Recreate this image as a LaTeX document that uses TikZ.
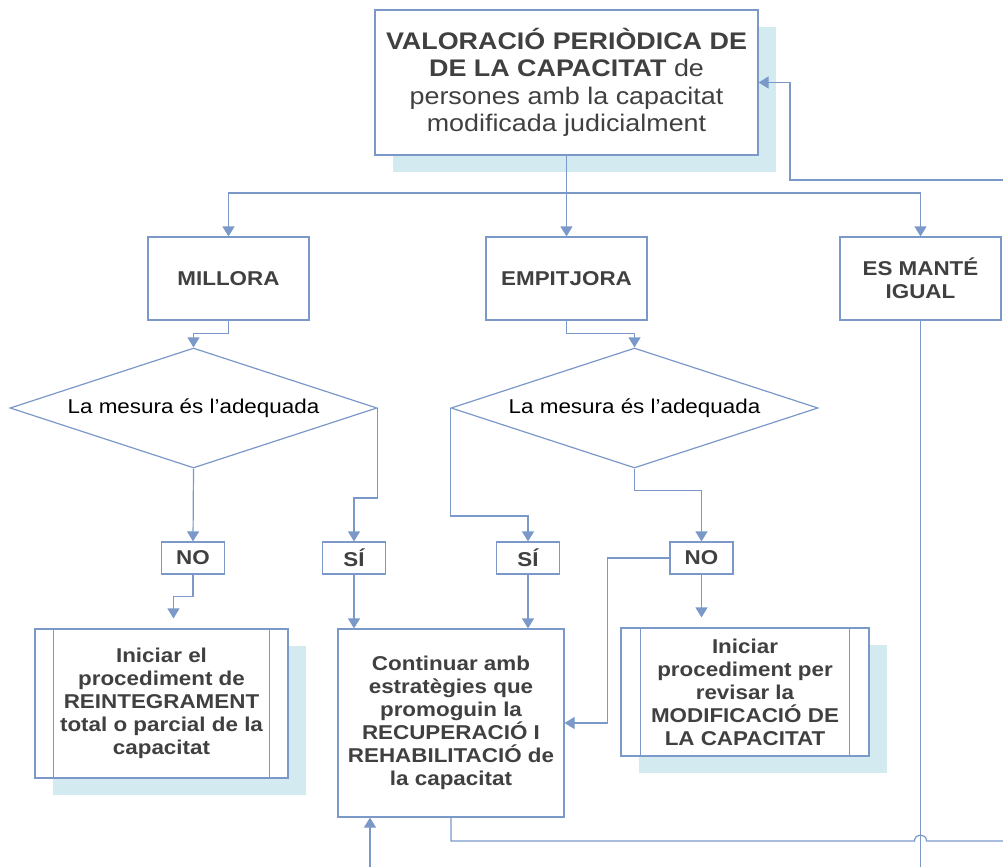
\documentclass[tikz,border=0pt]{standalone}
\usepackage{fontspec}
\setmainfont[FakeStretch=1.12]{Liberation Sans}
\usetikzlibrary{shapes.geometric,shadows,arrows.meta,calc}
\definecolor{blaulinia}{RGB}{122,152,200}
\definecolor{ombra}{RGB}{210,234,240}
\definecolor{gristext}{RGB}{64,64,64}
\tikzset{
    caixa/.style={draw=blaulinia, line width=1.2pt, fill=white, align=center,
        text=gristext, inner sep=2pt, font=\fontsize{20}{23}\selectfont\bfseries},
    ombrejat/.style={general shadow={fill=ombra, shadow xshift=18pt, shadow yshift=-17pt}},
    rombe/.style={diamond, draw=blaulinia, line width=1.2pt, inner sep=0pt, aspect=3.06,
        minimum width=367pt, minimum height=120pt, font=\fontsize{20}{23}\selectfont},
    fletxa/.style={draw=blaulinia, line width=1.2pt, -{Triangle[width=12pt,length=10pt]}},
    tram/.style={draw=blaulinia, line width=1.2pt},
}
\begin{document}
\begin{tikzpicture}[x=1pt, y=-1pt]
    \useasboundingbox (0,0) rectangle (1003,867);

    % Caixa superior
    \node[caixa, ombrejat, minimum width=383pt, minimum height=145pt,
        font=\fontsize{24}{27.5}\selectfont] (valoracio) at (566.5,82.5)
        {\textbf{VALORACIÓ PERIÒDICA DE}\\\textbf{DE LA CAPACITAT} de\\persones amb la capacitat\\modificada judicialment};

    % Evolucio
    \foreach \nom/\x/\val in {millora/228.5/MILLORA, empitjora/566.5/EMPITJORA, mante/920.5/{ES MANTÉ\\IGUAL}} {
        \node[caixa, minimum width=161pt, minimum height=83pt] (\nom) at (\x,278.5) {\val};
    }

    % Preguntes
    \node[rombe] (mesura1) at (193.5,408) {La mesura és l’adequada};
    \node[rombe] (mesura2) at (634.5,408) {La mesura és l’adequada};

    % Respostes
    \foreach \nom/\x/\val in {no1/193/NO, si1/354/SÍ, si2/528/SÍ, no2/701.5/NO} {
        \node[caixa, minimum width=63pt, minimum height=32pt] (\nom) at (\x,558) {\val};
    }

    % Accions
    \node[caixa, ombrejat, minimum width=253pt, minimum height=149pt] (reintegrament) at (161.5,703.5)
        {Iniciar el\\procediment de\\REINTEGRAMENT\\total o parcial de la\\capacitat};
    \node[caixa, minimum width=226pt, minimum height=188pt] (continuar) at (451,723)
        {Continuar amb\\estratègies que\\promoguin la\\RECUPERACIÓ I\\REHABILITACIÓ de\\la capacitat};
    \node[caixa, ombrejat, minimum width=248pt, minimum height=128pt] (revisar) at (745,692)
        {Iniciar\\procediment per\\revisar la\\MODIFICACIÓ DE\\LA CAPACITAT};
    \foreach \nom/\d in {reintegrament/19, revisar/20} {
        \draw[tram] ([xshift=\d pt]\nom.north west) -- ([xshift=\d pt]\nom.south west);
        \draw[tram] ([xshift=-\d pt]\nom.north east) -- ([xshift=-\d pt]\nom.south east);
    }

    % Connexions
    \coordinate (bifurcacio) at (566.5,193);
    \coordinate (tornada) at (1003,180);
    \coordinate (sortida) at (1003,841);
    \coordinate (baix) at (920.5,867);
    \coordinate (entrada) at (370,867);
    \draw[fletxa] (valoracio.south) -- (empitjora.north);
    \draw[fletxa] (bifurcacio) -| (millora.north);
    \draw[fletxa] (bifurcacio) -| (mante.north);
    \draw[fletxa] (tornada) -- ++(-213,0) |- (valoracio.east);
    \draw[fletxa] (millora.south) -- ++(0,13) -| (mesura1.north);
    \draw[fletxa] (empitjora.south) -- ++(0,13) -| (mesura2.north);
    \draw[fletxa] (mesura1.south) -- (no1.north);
    \draw[fletxa] (mesura1.east) -- ++(0,90) -| (si1.north);
    \draw[fletxa] (mesura2.west) -- ++(0,108) -| (si2.north);
    \draw[fletxa] (mesura2.south) -- ++(0,22) -| (no2.north);
    \draw[fletxa] (no1.south) -- ++(0,22) -| ($(reintegrament.north)+(12,-10)$);
    \draw[fletxa] (no2.south) -- ($(no2.south |- revisar.north)+(0,-10)$);
    \draw[fletxa] (si1.south) -- (si1.south |- continuar.north);
    \draw[fletxa] (si2.south) -- (si2.south |- continuar.north);
    \draw[fletxa] (no2.west) -- ++(-62,0) |- (continuar.east);
    \draw[fletxa] (entrada) -- (entrada |- continuar.south);
    \draw[tram] (mante.south) -- (baix);
    \draw[tram] (continuar.south) |- (914.5,841)
        .. controls (914.5,833) and (926.5,833) .. (926.5,841) -- (sortida);
\end{tikzpicture}
\end{document}
